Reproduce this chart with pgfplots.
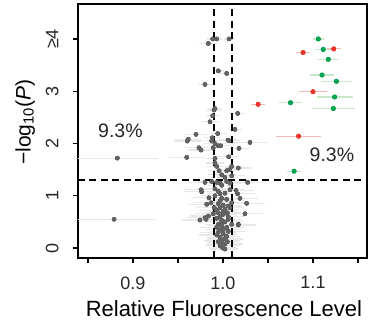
\documentclass[border=0pt]{standalone}
\usepackage{pgfplots}
\pgfplotsset{compat=1.18}
\usepackage{pgfplotstable}
\usepackage{fontspec}
\setmainfont{Liberation Sans}
\definecolor{ptgrey}{HTML}{636363}
\definecolor{errgrey}{HTML}{E8E8E8}
\definecolor{ptgreen}{HTML}{00A650}
\definecolor{errgreen}{HTML}{C6EAC9}
\definecolor{ptred}{HTML}{F2382B}
\definecolor{errred}{HTML}{F8B7B1}

\pgfplotstableread{
x y e
0.9837 3.914 0.010
0.9886 4.00 0.006
0.9930 4.00 0.006
1.0067 4.00 0.006
0.9948 3.39 0.006
1.0041 3.34 0.008
0.9800 3.13 0.008
0.9910 2.67 0.008
0.9900 2.64 0.008
1.0163 2.575 0.008
0.9886 2.53 0.008
0.9856 2.415 0.010
1.0133 2.27 0.008
0.9941 2.19 0.010
0.9700 2.174 0.012
0.9881 2.11 0.010
1.0056 2.065 0.010
0.9614 2.08 0.015
0.9603 2.046 0.015
0.9874 2.05 0.010
0.9911 2.00 0.012
0.9948 1.956 0.010
0.9974 1.956 0.010
1.0067 2.05 0.012
0.9733 1.918 0.015
0.9756 1.874 0.015
0.9892 1.918 0.010
1.0178 1.906 0.012
1.0300 2.02 0.020
0.9597 1.734 0.020
0.9911 1.715 0.010
1.0063 1.746 0.012
0.8826 1.72 0.045
0.9911 1.625 0.010
0.9930 1.562 0.012
0.9956 1.478 0.012
1.0041 1.478 0.010
1.0070 1.497 0.010
1.0097 1.562 0.012
1.0170 1.53 0.015
0.9800 1.256 0.020
0.9874 1.275 0.015
0.9930 1.256 0.012
0.9967 1.243 0.012
1.0041 1.275 0.015
1.0078 1.243 0.012
1.0274 1.256 0.020
0.9756 1.115 0.020
0.9911 1.134 0.015
0.9948 1.084 0.015
1.0078 1.115 0.015
1.0144 1.103 0.020
0.9763 1.076 0.020
0.9844 0.962 0.020
0.9967 1.038 0.015
1.0163 1.038 0.020
1.0189 0.950 0.020
0.9819 0.836 0.020
0.9867 0.866 0.020
0.9967 0.899 0.015
1.0059 0.803 0.015
1.0097 0.866 0.015
1.0263 0.855 0.020
0.9903 0.771 0.020
0.9967 0.771 0.015
1.0022 0.740 0.015
1.0078 0.771 0.015
0.9837 0.612 0.020
0.9892 0.656 0.020
0.9948 0.675 0.015
1.0003 0.644 0.015
1.0048 0.675 0.015
1.0244 0.656 0.020
0.9744 0.535 0.020
0.9800 0.579 0.020
0.9811 0.549 0.020
0.9930 0.568 0.015
0.9986 0.530 0.015
1.0059 0.549 0.015
1.0097 0.453 0.015
1.0170 0.453 0.020
0.9948 0.453 0.015
0.8790 0.55 0.045
1.0170 0.44 0.020
0.9930 0.396 0.020
0.9986 0.426 0.015
1.0041 0.396 0.020
0.9948 0.300 0.020
1.0003 0.268 0.015
1.0059 0.319 0.020
0.9967 0.205 0.015
1.0022 0.172 0.020
0.9986 0.109 0.015
1.0022 0.076 0.020
0.9967 0.044 0.015
0.9997 0.000 0.015
1.0022 -0.02 0.015
0.9967 0.35 0.015
1.0003 0.35 0.020
0.9930 0.25 0.020
1.0041 0.22 0.015
0.9986 0.15 0.020
1.0048 0.12 0.015
0.9948 0.12 0.015
1.0003 0.05 0.020
0.9986 0.50 0.015
1.0022 0.50 0.020
0.9967 0.60 0.015
1.0059 0.60 0.020
1.0003 0.70 0.015
0.9930 0.72 0.020
1.0003 0.82 0.015
0.9948 0.85 0.015
0.9986 0.95 0.015
1.0041 0.93 0.015
0.9911 1.00 0.015
1.0022 1.05 0.015
0.9986 1.20 0.015
1.0022 1.35 0.015
0.9986 1.40 0.015
1.0097 1.38 0.015
}\greytab

\pgfplotstableread{
x y e
1.1059 4.00 0.006
1.1114 3.80 0.009
1.1170 3.61 0.011
1.1100 3.31 0.013
1.1260 3.19 0.017
1.1240 2.89 0.020
1.0750 2.78 0.013
1.1226 2.67 0.024
1.0790 1.47 0.008
}\greentab

\pgfplotstableread{
x y e
1.1230 3.81 0.008
1.0890 3.74 0.008
1.1000 2.99 0.016
1.0390 2.75 0.008
1.0840 2.14 0.025
}\redtab

\begin{document}
\begin{tikzpicture}
\begin{axis}[
  scale only axis,
  width=289bp, height=254bp,
  xmin=0.8389, xmax=1.16,
  ymin=-0.191, ymax=4.669,
  axis line style={line width=1.6bp, black},
  xtick={0.85,0.9,0.95,1.0,1.05,1.1,1.15},
  xticklabels={,0.9,,1.0,,1.1,},
  ytick={0,1,2,3,4},
  yticklabels={0,1,2,3,{≥4}},
  tick align=outside,
  major tick length=5bp,
  tick style={line width=1.4bp, black},
  xtick pos=bottom, ytick pos=left,
  tick label style={font=\fontsize{18bp}{20bp}\selectfont, text=black!85},
  yticklabel style={rotate=90, anchor=south},
  xticklabel shift=10bp,
  yticklabel shift=11bp,
  xlabel={Relative Fluorescence Level},
  ylabel={−log\textsubscript{10}(\textit{P})},
  every axis x label/.style={at={(axis description cs:0.505,-0.2)}, anchor=center,
    font=\fontsize{22bp}{26bp}\selectfont},
  every axis y label/.style={at={(axis description cs:-0.183,0.535)}, rotate=90, anchor=center,
    font=\fontsize{21bp}{25bp}\selectfont},
  clip=true,
]
\addplot[only marks, mark=none, forget plot,
  error bars/.cd, x dir=both, x explicit, error mark=none,
  error bar style={line width=1.2bp, errgrey}]
  table[x=x, y=y, x error=e]{\greytab};
\addplot[only marks, mark=*, mark size=2.1bp, color=ptgrey]
  table[x=x, y=y]{\greytab};
\addplot[only marks, mark=none, forget plot,
  error bars/.cd, x dir=both, x explicit, error mark=none,
  error bar style={line width=1.2bp, errgreen}]
  table[x=x, y=y, x error=e]{\greentab};
\addplot[only marks, mark=none, forget plot,
  error bars/.cd, x dir=both, x explicit, error mark=none,
  error bar style={line width=1.2bp, errred}]
  table[x=x, y=y, x error=e]{\redtab};
\addplot[only marks, mark=*, mark size=2.3bp, color=ptgreen]
  table[x=x, y=y]{\greentab};
\addplot[only marks, mark=*, mark size=2.3bp, color=ptred]
  table[x=x, y=y]{\redtab};
\draw[black, line width=1.8bp, dash pattern=on 7bp off 4.5bp]
  (axis cs:0.99,-0.191) -- (axis cs:0.99,4.669);
\draw[black, line width=1.8bp, dash pattern=on 7bp off 4.5bp]
  (axis cs:1.01,-0.191) -- (axis cs:1.01,4.669);
\draw[black, line width=1.8bp, dash pattern=on 7bp off 4.5bp]
  (axis cs:0.8389,1.301) -- (axis cs:1.16,1.301);
\node[font=\fontsize{19.5bp}{22bp}\selectfont, text=black!85] at (axis cs:0.886,2.24) {9.3\%};
\node[font=\fontsize{19.5bp}{22bp}\selectfont, text=black!85] at (axis cs:1.121,1.78) {9.3\%};
\coordinate (sw) at (rel axis cs:0,0);
\coordinate (ne) at (rel axis cs:1,1);
\end{axis}
\pgfresetboundingbox
\path ([shift={(-78bp,-67bp)}]sw) rectangle ([shift={(2bp,4bp)}]ne);
\end{tikzpicture}
\end{document}
